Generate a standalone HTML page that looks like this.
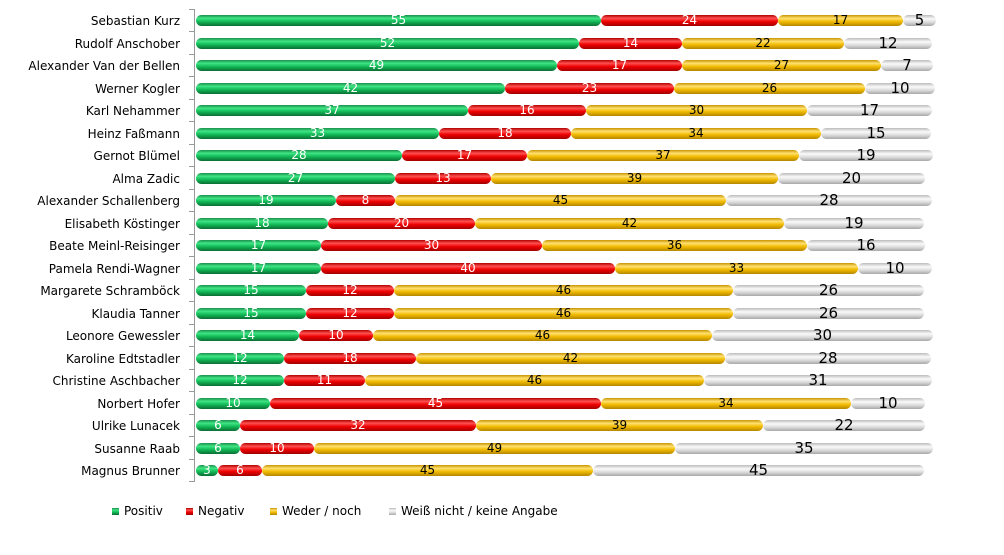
<!DOCTYPE html>
<html><head><meta charset="utf-8"><style>
body{margin:0;width:1004px;height:555px;background:#fff;font-family:"DejaVu Sans","Liberation Sans",sans-serif;position:relative;overflow:hidden}
.axis{position:absolute;left:194px;top:9px;width:1px;height:473px;background:#999}
.tick{position:absolute;left:189px;width:5px;height:1px;background:#999}
.row{position:absolute;left:0;height:22px;width:1004px}
.lab{position:absolute;right:824px;top:4px;font-size:12px;color:#000;white-space:nowrap}
.bars{position:absolute;left:196px;top:5px;height:11px;display:flex}
.s{height:11px;border-radius:6px;font-size:12px;line-height:11px;text-align:center;color:#fff;white-space:nowrap;overflow:visible}
.g{background:linear-gradient(#1b8f4b,#3fe584 30%,#12b856 60%,#0b6d34)}
.r{background:linear-gradient(#b00000,#ff5050 30%,#ee0000 60%,#a00000)}
.y{background:linear-gradient(#c89400,#ffe070 30%,#f2bb00 60%,#b38600);color:#000}
.w{background:linear-gradient(#bbb,#fafafa 35%,#dcdcdc 65%,#a8a8a8);color:#000;font-size:15px}
.leg{position:absolute;top:504px;font-size:12px}
.leg i{display:inline-block;width:7px;height:7px;margin-right:5px;vertical-align:0}
</style></head><body>
<div class="axis"></div>
<div class="row" style="top:10px"><div class="lab">Sebastian Kurz</div><div class="bars"><div class="s g" style="width:405px">55</div><div class="s r" style="width:177px">24</div><div class="s y" style="width:125px">17</div><div class="s w" style="width:33px">5</div></div></div>
<div class="row" style="top:32.5px"><div class="lab">Rudolf Anschober</div><div class="bars"><div class="s g" style="width:383px">52</div><div class="s r" style="width:103px">14</div><div class="s y" style="width:162px">22</div><div class="s w" style="width:88px">12</div></div></div>
<div class="row" style="top:55px"><div class="lab">Alexander Van der Bellen</div><div class="bars"><div class="s g" style="width:361px">49</div><div class="s r" style="width:125px">17</div><div class="s y" style="width:199px">27</div><div class="s w" style="width:52px">7</div></div></div>
<div class="row" style="top:77.5px"><div class="lab">Werner Kogler</div><div class="bars"><div class="s g" style="width:309px">42</div><div class="s r" style="width:169px">23</div><div class="s y" style="width:191px">26</div><div class="s w" style="width:70px">10</div></div></div>
<div class="row" style="top:100px"><div class="lab">Karl Nehammer</div><div class="bars"><div class="s g" style="width:272px">37</div><div class="s r" style="width:118px">16</div><div class="s y" style="width:221px">30</div><div class="s w" style="width:125px">17</div></div></div>
<div class="row" style="top:122.5px"><div class="lab">Heinz Faßmann</div><div class="bars"><div class="s g" style="width:243px">33</div><div class="s r" style="width:132px">18</div><div class="s y" style="width:250px">34</div><div class="s w" style="width:110px">15</div></div></div>
<div class="row" style="top:145px"><div class="lab">Gernot Blümel</div><div class="bars"><div class="s g" style="width:206px">28</div><div class="s r" style="width:125px">17</div><div class="s y" style="width:272px">37</div><div class="s w" style="width:134px">19</div></div></div>
<div class="row" style="top:167.5px"><div class="lab">Alma Zadic</div><div class="bars"><div class="s g" style="width:199px">27</div><div class="s r" style="width:96px">13</div><div class="s y" style="width:287px">39</div><div class="s w" style="width:147px">20</div></div></div>
<div class="row" style="top:190px"><div class="lab">Alexander Schallenberg</div><div class="bars"><div class="s g" style="width:140px">19</div><div class="s r" style="width:59px">8</div><div class="s y" style="width:331px">45</div><div class="s w" style="width:206px">28</div></div></div>
<div class="row" style="top:212.5px"><div class="lab">Elisabeth Köstinger</div><div class="bars"><div class="s g" style="width:132px">18</div><div class="s r" style="width:147px">20</div><div class="s y" style="width:309px">42</div><div class="s w" style="width:140px">19</div></div></div>
<div class="row" style="top:235px"><div class="lab">Beate Meinl-Reisinger</div><div class="bars"><div class="s g" style="width:125px">17</div><div class="s r" style="width:221px">30</div><div class="s y" style="width:265px">36</div><div class="s w" style="width:118px">16</div></div></div>
<div class="row" style="top:257.5px"><div class="lab">Pamela Rendi-Wagner</div><div class="bars"><div class="s g" style="width:125px">17</div><div class="s r" style="width:294px">40</div><div class="s y" style="width:243px">33</div><div class="s w" style="width:74px">10</div></div></div>
<div class="row" style="top:280px"><div class="lab">Margarete Schramböck</div><div class="bars"><div class="s g" style="width:110px">15</div><div class="s r" style="width:88px">12</div><div class="s y" style="width:339px">46</div><div class="s w" style="width:191px">26</div></div></div>
<div class="row" style="top:302.5px"><div class="lab">Klaudia Tanner</div><div class="bars"><div class="s g" style="width:110px">15</div><div class="s r" style="width:88px">12</div><div class="s y" style="width:339px">46</div><div class="s w" style="width:191px">26</div></div></div>
<div class="row" style="top:325px"><div class="lab">Leonore Gewessler</div><div class="bars"><div class="s g" style="width:103px">14</div><div class="s r" style="width:74px">10</div><div class="s y" style="width:339px">46</div><div class="s w" style="width:221px">30</div></div></div>
<div class="row" style="top:347.5px"><div class="lab">Karoline Edtstadler</div><div class="bars"><div class="s g" style="width:88px">12</div><div class="s r" style="width:132px">18</div><div class="s y" style="width:309px">42</div><div class="s w" style="width:206px">28</div></div></div>
<div class="row" style="top:370px"><div class="lab">Christine Aschbacher</div><div class="bars"><div class="s g" style="width:88px">12</div><div class="s r" style="width:81px">11</div><div class="s y" style="width:339px">46</div><div class="s w" style="width:228px">31</div></div></div>
<div class="row" style="top:392.5px"><div class="lab">Norbert Hofer</div><div class="bars"><div class="s g" style="width:74px">10</div><div class="s r" style="width:331px">45</div><div class="s y" style="width:250px">34</div><div class="s w" style="width:74px">10</div></div></div>
<div class="row" style="top:415px"><div class="lab">Ulrike Lunacek</div><div class="bars"><div class="s g" style="width:44px">6</div><div class="s r" style="width:236px">32</div><div class="s y" style="width:287px">39</div><div class="s w" style="width:162px">22</div></div></div>
<div class="row" style="top:437.5px"><div class="lab">Susanne Raab</div><div class="bars"><div class="s g" style="width:44px">6</div><div class="s r" style="width:74px">10</div><div class="s y" style="width:361px">49</div><div class="s w" style="width:258px">35</div></div></div>
<div class="row" style="top:460px"><div class="lab">Magnus Brunner</div><div class="bars"><div class="s g" style="width:22px">3</div><div class="s r" style="width:44px">6</div><div class="s y" style="width:331px">45</div><div class="s w" style="width:331px">45</div></div></div>
<div class="tick" style="top:9px"></div><div class="tick" style="top:31px"></div><div class="tick" style="top:54px"></div><div class="tick" style="top:76px"></div><div class="tick" style="top:99px"></div><div class="tick" style="top:121px"></div><div class="tick" style="top:144px"></div><div class="tick" style="top:166px"></div><div class="tick" style="top:189px"></div><div class="tick" style="top:211px"></div><div class="tick" style="top:234px"></div><div class="tick" style="top:256px"></div><div class="tick" style="top:279px"></div><div class="tick" style="top:301px"></div><div class="tick" style="top:324px"></div><div class="tick" style="top:346px"></div><div class="tick" style="top:369px"></div><div class="tick" style="top:391px"></div><div class="tick" style="top:414px"></div><div class="tick" style="top:436px"></div><div class="tick" style="top:459px"></div><div class="tick" style="top:481px"></div>
<div class="leg" style="left:112px"><i class="g"></i>Positiv</div>
<div class="leg" style="left:186px"><i class="r"></i>Negativ</div>
<div class="leg" style="left:270px"><i class="y"></i>Weder / noch</div>
<div class="leg" style="left:389px"><i class="w"></i>Weiß nicht / keine Angabe</div>
</body></html>
